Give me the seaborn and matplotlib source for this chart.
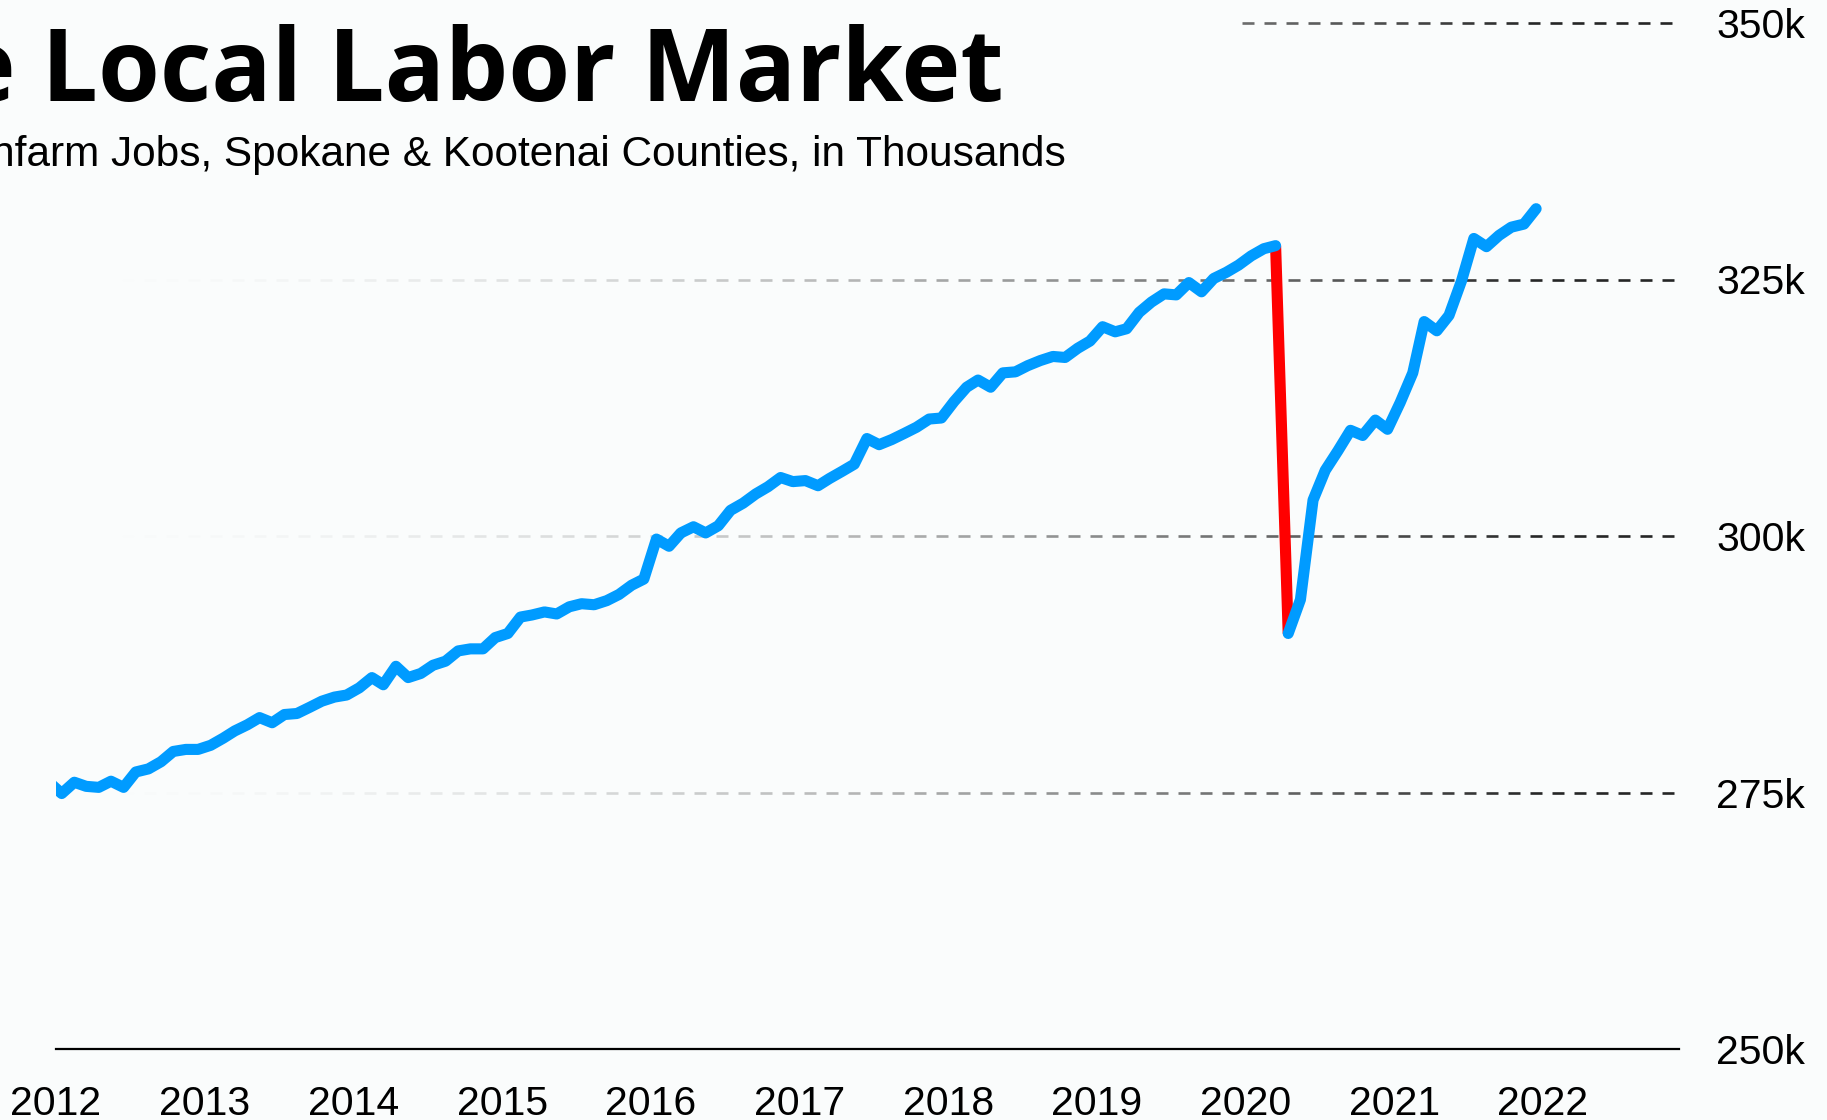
import numpy as np
import pandas as pd
import matplotlib
matplotlib.use('Agg')
import matplotlib.pyplot as plt
import matplotlib.dates as mdates
from matplotlib.collections import LineCollection
import seaborn as sns

title = 'The Local Labor Market'
subtitle = 'Nonfarm Jobs, Spokane & Kootenai Counties, in Thousands'

# Monthly nonfarm jobs (thousands), Dec 2011 - Dec 2021
jobs = [
    276.0,
    274.9, 276.0, 275.6, 275.5, 276.1, 275.5, 277.0, 277.3, 278.0, 279.0, 279.2, 279.2,  # 2012
    279.6, 280.3, 281.0, 281.6, 282.3, 281.8, 282.6, 282.7, 283.3, 283.9, 284.3, 284.5,  # 2013
    285.2, 286.2, 285.5, 287.3, 286.2, 286.6, 287.4, 287.8, 288.8, 289.0, 289.0, 290.1,  # 2014
    290.5, 292.1, 292.3, 292.6, 292.4, 293.1, 293.4, 293.3, 293.7, 294.3, 295.2, 295.8,  # 2015
    299.7, 299.0, 300.3, 300.9, 300.3, 301.0, 302.5, 303.2, 304.1, 304.8, 305.7, 305.3,  # 2016
    305.4, 304.9, 305.6, 306.3, 307.0, 309.5, 308.9, 309.4, 310.0, 310.6, 311.4, 311.5,  # 2017
    313.1, 314.5, 315.2, 314.5, 315.9, 316.0, 316.6, 317.1, 317.5, 317.4, 318.3, 319.0,  # 2018
    320.4, 319.9, 320.2, 321.8, 322.8, 323.6, 323.5, 324.7, 323.8, 325.1, 325.7, 326.4,  # 2019
    327.3, 328.0, 328.3, 290.5, 293.8, 303.5, 306.4, 308.3, 310.3, 309.8, 311.3, 310.4,  # 2020
    313.0, 315.9, 320.9, 320.0, 321.5, 324.9, 329.0, 328.2, 329.3, 330.1, 330.4, 331.9,  # 2021
]
months = pd.date_range('2011-12-01', '2021-12-01', freq='MS') + pd.Timedelta(days=14)
drop_start, drop_end = '2020-03-01', '2020-05-01'
y_ticks = [250, 275, 300, 325, 350]
year_ticks = list(range(2012, 2023))

blue = '#009bff'
red = '#ff0000'
bg = '#fafcfc'

sns.set_style('white')
plt.rcParams['font.family'] = ['Liberation Sans', 'DejaVu Sans']

df = pd.DataFrame({'date': months, 'jobs': jobs})
df['period'] = np.where(df['date'] < pd.Timestamp('2020-04-01'), 'before', 'after')
drop = df[(df['date'] >= drop_start) & (df['date'] < drop_end)]

fig = plt.figure(figsize=(18.27, 11.2), dpi=100, facecolor=bg)
ax = fig.add_axes([56 / 1827, 1 - 1049 / 1120, (1679 - 56) / 1827, (1049 - 23) / 1120])
ax.set_facecolor(bg)

# red covid drop sits under the blue line
sns.lineplot(data=drop, x='date', y='jobs', color=red, lw=8,
             solid_capstyle='butt', zorder=3, ax=ax)
sns.lineplot(data=df, x='date', y='jobs', hue='period',
             palette={'before': blue, 'after': blue}, lw=8, legend=False,
             solid_capstyle='round', zorder=4, ax=ax)

x0 = pd.Timestamp('2012-01-01')
x1 = pd.Timestamp('2022-12-01')
ax.set_xlim(x0, x1)
ax.set_ylim(y_ticks[0], y_ticks[-1])

# dashed gridlines fading in from the left
dash, gap = 12 / 1623, 10 / 1623
n0, n1 = mdates.date2num(x0), mdates.date2num(x1)
top_start = (mdates.date2num(pd.Timestamp('2020-01-01')) - n0) / (n1 - n0) - 0.002
for v in y_ticks[1:]:
    start = top_start if v == y_ticks[-1] else 0.0
    segs, cols = [], []
    s = start
    while s < 1:
        e = min(s + dash, 1)
        mid = (s + e) / 2
        segs.append([(s, v), (e, v)])
        cols.append((0.0, 0.0, 0.0, min(0.85, 1.0 * mid ** 1.8)))
        s += dash + gap
    lc = LineCollection(segs, colors=cols, linewidths=1.9,
                        transform=ax.get_yaxis_transform(), zorder=1, clip_on=False)
    ax.add_collection(lc)

ax.set_xticks([pd.Timestamp(f'{y}-01-01') for y in year_ticks])
ax.set_xticklabels([str(y) for y in year_ticks])
ax.yaxis.tick_right()
ax.set_yticks(y_ticks)
ax.set_yticklabels([f'{v}k' for v in y_ticks])
ax.tick_params(axis='x', length=12, width=1.6, pad=14, labelsize=29.5, colors='black')
ax.tick_params(axis='y', length=0, pad=27, labelsize=29.5, colors='black')
ax.set_xlabel('')
ax.set_ylabel('')

for side in ['top', 'left', 'right']:
    ax.spines[side].set_visible(False)
ax.spines['bottom'].set_linewidth(1.6)
ax.spines['bottom'].set_color('black')

fig.text(1004 / 1827, 1 - 101 / 1120, title, ha='right', va='baseline', color='black',
         fontsize=72, fontweight='bold', family=['Open Sans', 'DejaVu Sans'])
fig.text(1066 / 1827, 1 - 166 / 1120, subtitle, ha='right', va='baseline', color='black',
         fontsize=30.5, family=['Liberation Sans', 'DejaVu Sans'])

fig.savefig('out.png', dpi=100, facecolor=bg)
